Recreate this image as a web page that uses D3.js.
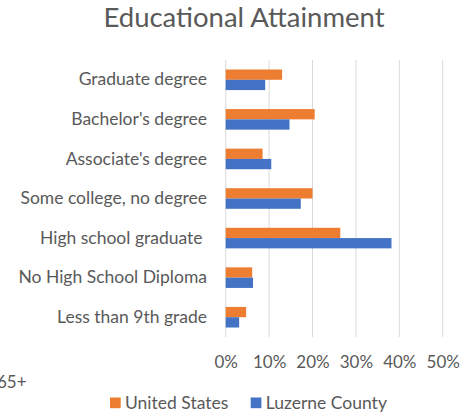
<!DOCTYPE html>
<html><head><meta charset="utf-8">
<script src="https://cdn.jsdelivr.net/npm/d3@7"></script>
<style>body{margin:0;background:#fff;}svg{display:block;}</style>
</head><body>
<svg id="chart" width="466" height="417"></svg>
<script>
const categories = ["Graduate degree","Bachelor's degree","Associate's degree","Some college, no degree","High school graduate ","No High School Diploma","Less than 9th grade"];
const seriesNames = ["United States","Luzerne County"];
const unitedStates = [13.0, 20.5, 8.5, 20.0, 26.4, 6.1, 4.7];
const luzerneCounty = [9.1, 14.7, 10.5, 17.3, 38.2, 6.3, 3.1];
const tickValues = [0, 10, 20, 30, 40, 50];
const colors = ["#ED7D31", "#4472C4"];

const font = "Lato, 'Open Sans', sans-serif";
const textColor = "#595959";
const svg = d3.select("#chart");

const x = d3.scaleLinear().domain([0, 50]).range([225.7, 442.7]);
const y = d3.scaleBand().domain(categories).range([60, 337]).paddingInner(0.48).paddingOuter(0.24);
const ySub = d3.scaleBand().domain(seriesNames).range([0, y.bandwidth()]);

// title
svg.append("text").attr("x", 244).attr("y", 27).attr("text-anchor", "middle")
  .attr("font-family", font).attr("font-size", 27.5).attr("fill", textColor)
  .text("Educational Attainment");

// gridlines
svg.append("g").selectAll("line").data(tickValues).join("line")
  .attr("x1", d => x(d)).attr("x2", d => x(d))
  .attr("y1", 60).attr("y2", 337)
  .attr("stroke", "#d9d9d9").attr("stroke-width", 1);

// bars
const series = [unitedStates, luzerneCounty];
const g = svg.append("g");
categories.forEach((c, i) => {
  seriesNames.forEach((s, j) => {
    g.append("rect")
      .attr("x", x(0)).attr("y", y(c) + ySub(s))
      .attr("width", x(series[j][i]) - x(0))
      .attr("height", ySub.bandwidth())
      .attr("fill", colors[j]);
  });
});

// category axis labels
const yAxis = d3.axisLeft(y).tickSize(0).tickPadding(0);
const ya = svg.append("g").attr("transform", "translate(207,0)").call(yAxis);
ya.select(".domain").remove();
ya.selectAll("text").attr("font-family", font).attr("font-size", 17.5).attr("fill", textColor)
  .style("white-space", "pre").attr("xml:space", "preserve");

// x axis labels
const xAxis = d3.axisBottom(x).tickValues(tickValues).tickFormat(d => d + "%").tickSize(0).tickPadding(0);
const xa = svg.append("g").attr("transform", "translate(0,356)").call(xAxis);
xa.select(".domain").remove();
xa.selectAll("text").attr("font-family", font).attr("font-size", 17).attr("fill", textColor);

// stray label
svg.append("text").attr("x", -3).attr("y", 388).attr("font-family", font).attr("font-size", 17)
  .attr("fill", textColor).text("65+");

// legend
const legendX = [110, 250.7];
seriesNames.forEach((s, j) => {
  svg.append("rect").attr("x", legendX[j]).attr("y", 397.5).attr("width", 10.7).attr("height", 10.7).attr("fill", colors[j]);
  svg.append("text").attr("x", legendX[j] + 15).attr("y", 409).attr("font-family", font).attr("font-size", 17.5)
    .attr("fill", textColor).text(s);
});
</script>
</body></html>
